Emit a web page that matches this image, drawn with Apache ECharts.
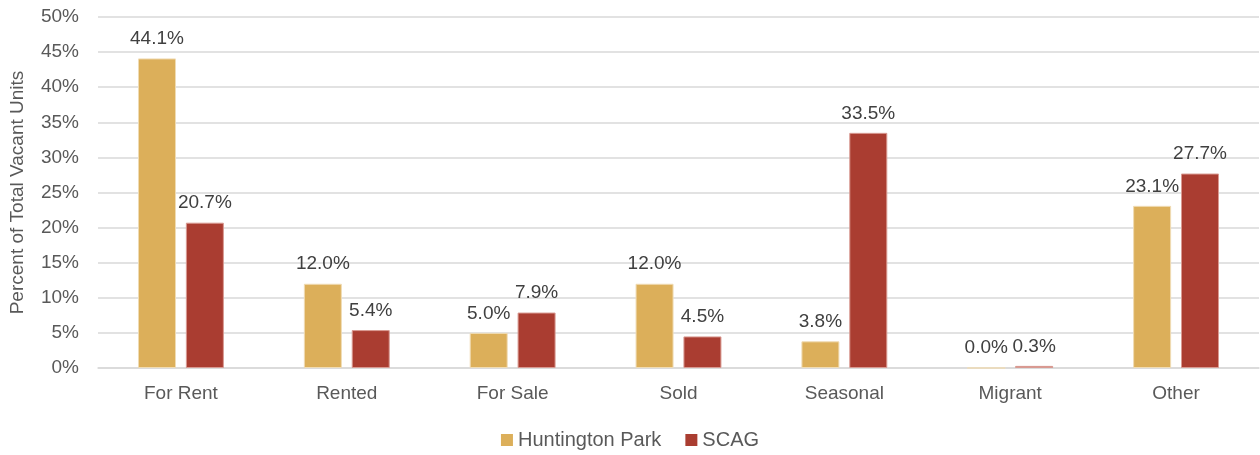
<!DOCTYPE html>
<html>
<head>
<meta charset="utf-8">
<script src="https://cdn.jsdelivr.net/npm/echarts@6/dist/echarts.min.js"></script>
<style>
  html, body { margin: 0; padding: 0; background: #fff; }
  #chart { width: 1260px; height: 455px; }
</style>
</head>
<body>
<div id="chart"></div>
<script>
const categories = ["For Rent", "Rented", "For Sale", "Sold", "Seasonal", "Migrant", "Other"];
const huntingtonPark = [44.1, 12.0, 5.0, 12.0, 3.8, 0.0, 23.1];
const scag = [20.7, 5.4, 7.9, 4.5, 33.5, 0.3, 27.7];

const fontFamily = "'Liberation Sans', Arial, sans-serif";

const chart = echarts.init(document.getElementById("chart"));

const labelStyle = {
  show: true,
  position: "top",
  distance: 10,
  color: "#404040",
  fontSize: 19,
  fontFamily,
  formatter: p => p.value.toFixed(1) + "%"
};

chart.setOption({
  animation: false,
  grid: { left: 97, right: 1, top: 17, bottom: 87 },
  legend: {
    bottom: 0,
    left: "center",
    itemWidth: 12,
    itemHeight: 12,
    itemGap: 24,
    icon: "rect",
    itemStyle: { borderWidth: 0 },
    textStyle: { color: "#595959", fontSize: 20, fontFamily }
  },
  xAxis: {
    type: "category",
    data: categories,
    axisTick: { show: false },
    axisLine: { lineStyle: { color: "#d9d9d9", width: 1.5 } },
    axisLabel: { color: "#595959", fontSize: 19, fontFamily, margin: 16 }
  },
  yAxis: {
    type: "value",
    min: 0,
    max: 50,
    interval: 5,
    name: "Percent of Total Vacant Units",
    nameLocation: "middle",
    nameGap: 71,
    nameTextStyle: { color: "#595959", fontSize: 19, fontFamily },
    axisLabel: { color: "#595959", fontSize: 19, fontFamily, formatter: "{value}%", margin: 19 },
    splitLine: { lineStyle: { color: "#d9d9d9", width: 1.5 } }
  },
  series: [
    {
      name: "Huntington Park",
      type: "bar",
      data: huntingtonPark,
      barWidth: 38,
      barGap: "26%",
      itemStyle: { color: "#dcaf5a", borderColor: "#f0dcb5", borderWidth: 1 },
      label: labelStyle
    },
    {
      name: "SCAG",
      type: "bar",
      data: scag,
      barWidth: 38,
      itemStyle: { color: "#aa3d31", borderColor: "#d99a92", borderWidth: 1 },
      label: labelStyle
    }
  ]
});
</script>
</body>
</html>
